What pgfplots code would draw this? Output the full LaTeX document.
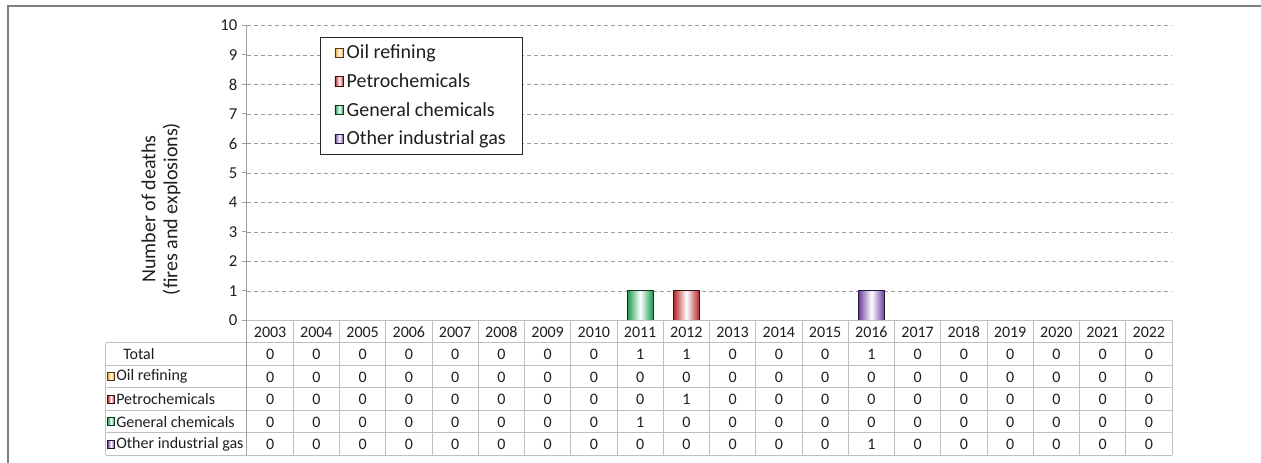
\documentclass[border=0pt]{standalone}
\usepackage{pgfplots}
\pgfplotsset{compat=1.18}
\usepackage{pgfplotstable}
\usepackage{fontspec}
\setmainfont{Carlito}

\definecolor{oilc}{RGB}{240,160,40}
\definecolor{petc}{RGB}{180,35,40}
\definecolor{genc}{RGB}{25,150,75}
\definecolor{othc}{RGB}{105,60,155}
\definecolor{tabline}{RGB}{191,191,191}
\definecolor{axline}{RGB}{160,160,160}
\definecolor{txt}{RGB}{30,30,30}

\pgfplotstableread{
x year total oil petro gen other
0 2003 0 0 0 0 0
1 2004 0 0 0 0 0
2 2005 0 0 0 0 0
3 2006 0 0 0 0 0
4 2007 0 0 0 0 0
5 2008 0 0 0 0 0
6 2009 0 0 0 0 0
7 2010 0 0 0 0 0
8 2011 1 0 0 1 0
9 2012 1 0 1 0 0
10 2013 0 0 0 0 0
11 2014 0 0 0 0 0
12 2015 0 0 0 0 0
13 2016 1 0 0 0 1
14 2017 0 0 0 0 0
15 2018 0 0 0 0 0
16 2019 0 0 0 0 0
17 2020 0 0 0 0 0
18 2021 0 0 0 0 0
19 2022 0 0 0 0 0
}\deaths

\newcommand{\tabfont}{\fontsize{12}{14}\selectfont}
\tikzset{
  shadebar/.style={left color=#1, right color=#1, middle color=white, draw=#1!35!black},
  tabnode/.style={anchor=center, font=\tabfont, text=txt, inner sep=0pt, text height=8pt, text depth=0pt},
}

\begin{document}
\begin{tikzpicture}
\begin{axis}[
  scale only axis, width=693.75pt, height=221.25pt,
  xmin=-0.5, xmax=19.5, ymin=0, ymax=10,
  axis x line=none, axis y line*=left,
  y axis line style={draw=axline, line width=0.75pt},
  ytick={0,1,...,10},
  tick align=outside, major tick length=3.75pt,
  ytick style={draw=axline, line width=0.75pt},
  ymajorgrids,
  grid style={draw=axline, dash pattern=on 3pt off 2.25pt, line width=0.6pt},
  yticklabel style={font=\fontsize{12.5}{14}\selectfont, text=txt},
  /pgf/number format/assume math mode=true,
  clip=false,
  legend style={at={(0.079,0.961)}, anchor=north west, draw=black!85, line width=0.75pt,
    font=\fontsize{15}{17}\selectfont, text=txt, row sep=5.6pt, inner xsep=10.5pt, inner ysep=3.5pt},
  legend cell align=left,
  legend image code/.code={\draw[#1, line width=0.6pt] (0.3pt,-3.5pt) rectangle (6.8pt,3.5pt);},
]
\addlegendimage{shadebar=oilc}
\addlegendentry{Oil refining}
\addlegendimage{shadebar=petc}
\addlegendentry{Petrochemicals}
\addlegendimage{shadebar=genc}
\addlegendentry{General chemicals}
\addlegendimage{shadebar=othc}
\addlegendentry{Other industrial gas}

\addplot[ybar, bar width=19.5pt, bar shift=0pt, forget plot, shadebar=petc, line width=0.75pt,
  y filter/.expression={y==0 ? nan : y}, unbounded coords=discard] table[x=x, y=petro]{\deaths};
\addplot[ybar, bar width=19.5pt, bar shift=0pt, forget plot, shadebar=genc, line width=0.75pt,
  y filter/.expression={y==0 ? nan : y}, unbounded coords=discard] table[x=x, y=gen]{\deaths};
\addplot[ybar, bar width=19.5pt, bar shift=0pt, forget plot, shadebar=othc, line width=0.75pt,
  y filter/.expression={y==0 ? nan : y}, unbounded coords=discard] table[x=x, y=other]{\deaths};

% data table text
\addplot[draw=none, mark=none, forget plot, nodes near coords, point meta=explicit symbolic,
  every node near coord/.append style={tabnode}] table[x=x, y expr=-0.381, meta=year]{\deaths};
\addplot[draw=none, mark=none, forget plot, nodes near coords, point meta=explicit symbolic,
  every node near coord/.append style={tabnode}] table[x=x, y expr=-1.144, meta=total]{\deaths};
\addplot[draw=none, mark=none, forget plot, nodes near coords, point meta=explicit symbolic,
  every node near coord/.append style={tabnode}] table[x=x, y expr=-1.907, meta=oil]{\deaths};
\addplot[draw=none, mark=none, forget plot, nodes near coords, point meta=explicit symbolic,
  every node near coord/.append style={tabnode}] table[x=x, y expr=-2.670, meta=petro]{\deaths};
\addplot[draw=none, mark=none, forget plot, nodes near coords, point meta=explicit symbolic,
  every node near coord/.append style={tabnode}] table[x=x, y expr=-3.432, meta=gen]{\deaths};
\addplot[draw=none, mark=none, forget plot, nodes near coords, point meta=explicit symbolic,
  every node near coord/.append style={tabnode}] table[x=x, y expr=-4.195, meta=other]{\deaths};

\coordinate (O) at (axis cs:-0.5,0);
\end{axis}

\begin{scope}[shift={(O)}, xshift=-185.25pt, yshift=240.375pt, x=0.75pt, y=-0.75pt]
  % table grid
  \draw[tabline, line width=0.75pt] (247,320.5) -- (1172,320.5);
  \foreach \yy in {343,365.5,388,410.5,433,455.5}
    \draw[tabline, line width=0.75pt] (106,\yy) -- (1172,\yy);
  \foreach \k in {1,...,20}
    \draw[tabline, line width=0.75pt] ({247+46.25*\k},320.5) -- ({247+46.25*\k},455.5);
  \draw[axline, line width=0.75pt] (247,320.5) -- (247,455.5);
  \draw[tabline, line width=0.75pt] (106,343) -- (106,455.5);
  % row labels
  \node[anchor=west, font=\tabfont, text=txt, inner sep=0pt] at (123,354.2) {Total};
  \foreach \yy/\c/\t in {376.7/oilc/Oil refining, 399.2/petc/Petrochemicals, 421.7/genc/General chemicals, 444.2/othc/Other industrial gas}{
    \draw[shadebar=\c, line width=0.6pt] (107.5,\yy-4) rectangle (114.5,\yy+4);
    \node[anchor=west, font=\tabfont, text=txt, inner sep=0pt] at (116,\yy) {\t};
  }
  % y label
  \node[rotate=90, align=center, font=\fontsize{15}{16.5}\selectfont, text=txt] at (161,209)
    {Number of deaths\\(fires and explosions)};
  % frame
  \draw[gray, line width=1.5pt] (8,463) -- (8,6.5) -- (1261,6.5);
  \pgfresetboundingbox
  \useasboundingbox (0,0) rectangle (1261,463);
\end{scope}
\end{tikzpicture}
\end{document}
